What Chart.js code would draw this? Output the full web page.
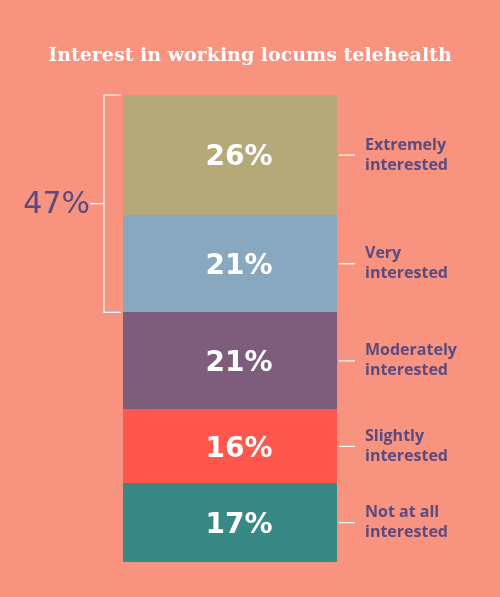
<!DOCTYPE html>
<html>
<head>
<meta charset="utf-8">
<script src="https://cdn.jsdelivr.net/npm/chart.js@4"></script>
<style>
  body { margin: 0; background: #F7937E; }
  #wrap { width: 500px; height: 597px; position: relative; }
</style>
</head>
<body>
<div id="wrap"><canvas id="chart"></canvas></div>
<script>
// stacked from bottom to top
const categories = ['Not at all\ninterested', 'Slightly\ninterested', 'Moderately\ninterested', 'Very\ninterested', 'Extremely\ninterested']
const values = [17, 16, 21, 21, 26]
const colors = ['#388886', '#FF564E', '#7E5C7B', '#87A8BE', '#B5A97A']
const bracketLabel = '47%'
const title = 'Interest in working locums telehealth'

const labelColor = '#5A4A80'

// draw title, values, side labels and bracket
const decorations = {
  id: 'decorations',
  afterDatasetsDraw(chart) {
    const ctx = chart.ctx
    const area = chart.chartArea
    ctx.save()

    ctx.fillStyle = '#fff'
    ctx.font = 'bold 19px "DejaVu Serif"'
    ctx.textAlign = 'center'
    ctx.textBaseline = 'middle'
    ctx.fillText(title, 250, 56)

    const boxes = chart.data.datasets.map((ds, i) => {
      const el = chart.getDatasetMeta(i).data[0]
      const top = Math.min(el.y, el.base)
      const bottom = Math.max(el.y, el.base)
      return { top, bottom, mid: (top + bottom) / 2 }
    })

    boxes.forEach((b, i) => {
      ctx.fillStyle = '#fff'
      ctx.font = 'bold 28px "DejaVu Sans"'
      ctx.textAlign = 'center'
      ctx.fillText(values[i] + '%', (area.left + area.right) / 2 + 9, b.mid + 3)

      ctx.strokeStyle = '#fff'
      ctx.lineWidth = 1.2
      ctx.beginPath()
      ctx.moveTo(area.right + 2, b.mid)
      ctx.lineTo(area.right + 18, b.mid)
      ctx.stroke()

      ctx.fillStyle = labelColor
      ctx.font = 'bold 16px "Open Sans"'
      ctx.textAlign = 'left'
      const lines = categories[i].split('\n')
      ctx.fillText(lines[0], area.right + 28, b.mid - 10)
      ctx.fillText(lines[1], area.right + 28, b.mid + 10)
    })

    // bracket over top two segments
    const top = boxes[4].top
    const bottom = boxes[3].bottom
    const bx = area.left - 19
    ctx.strokeStyle = '#fff'
    ctx.lineWidth = 1.2
    ctx.beginPath()
    ctx.moveTo(area.left - 2, top)
    ctx.lineTo(bx, top)
    ctx.lineTo(bx, bottom)
    ctx.lineTo(area.left - 2, bottom)
    ctx.moveTo(bx, (top + bottom) / 2)
    ctx.lineTo(bx - 14, (top + bottom) / 2)
    ctx.stroke()

    ctx.fillStyle = labelColor
    ctx.font = '30px "DejaVu Sans"'
    ctx.textAlign = 'right'
    ctx.fillText(bracketLabel, bx - 14, (top + bottom) / 2 + 2)

    ctx.restore()
  }
}

new Chart(document.getElementById('chart'), {
  type: 'bar',
  data: {
    labels: [''],
    datasets: values.map((v, i) => ({
      label: categories[i],
      data: [v],
      backgroundColor: colors[i],
      borderWidth: 0,
      barPercentage: 1,
      categoryPercentage: 1
    }))
  },
  options: {
    responsive: true,
    maintainAspectRatio: false,
    animation: false,
    layout: { padding: { left: 123, right: 163, top: 95, bottom: 35 } },
    plugins: { legend: { display: false }, tooltip: { enabled: false }, title: { display: false } },
    scales: {
      x: { stacked: true, display: false },
      y: { stacked: true, display: false, min: 0, max: 101 }
    }
  },
  plugins: [decorations]
})
</script>
</body>
</html>
